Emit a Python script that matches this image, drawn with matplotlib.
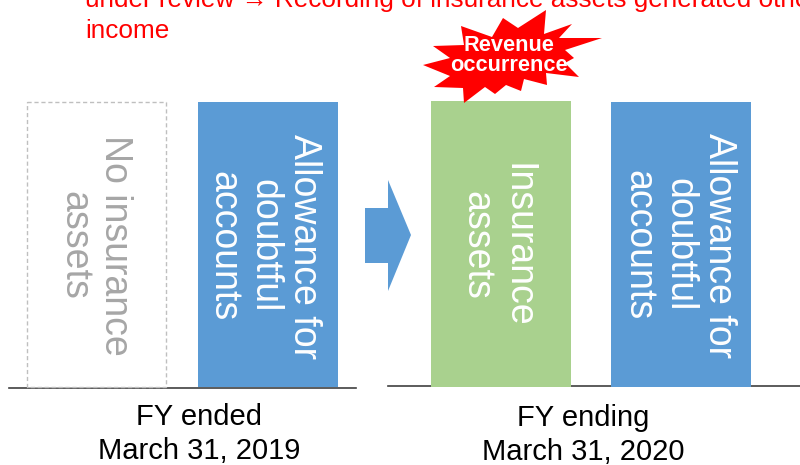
import matplotlib
matplotlib.use('Agg')
import matplotlib.pyplot as plt
from matplotlib.patches import Rectangle, Polygon

plt.rcParams['font.family'] = ['Liberation Sans', 'DejaVu Sans']

# bar labels and heights, left then right panel
labels_2019 = ['No insurance\nassets', 'Allowance for\ndoubtful\naccounts']
heights_2019 = [285, 285]
labels_2020 = ['Insurance\nassets', 'Allowance for\ndoubtful\naccounts']
heights_2020 = [286, 285]
period_2019 = 'FY ended\nMarch 31, 2019'
period_2020 = 'FY ending\nMarch 31, 2020'
headline = 'under review \u2192 Recording of insurance assets generated other\nincome'
burst_label = 'Revenue\noccurrence'

BLUE = '#5b9bd5'
GREEN = '#a9d18e'
GREY = '#a6a6a6'
BAR_FS = 27
BAR_LS = 1.16

fig = plt.figure(figsize=(8, 4.65), dpi=100)
ax = fig.add_axes([0, 0, 1, 1])
ax.set_xlim(0, 800)
ax.set_ylim(465, 0)
ax.axis('off')

base = 387

# baselines
ax.plot([9, 356], [base + 0.5, base + 0.5], color='#404040', lw=1.2, zorder=1)
ax.plot([388, 800], [base - 1, base - 1], color='#404040', lw=1.2, zorder=1)

# left panel
ax.add_patch(Rectangle((27, base - heights_2019[0]), 139, heights_2019[0], fc='white',
                       ec='#bfbfbf', lw=1, ls=(0, (3, 2)), zorder=2))
ax.text(95, 245, labels_2019[0], rotation=-90, color=GREY, fontsize=BAR_FS, ha='center',
        va='center', linespacing=BAR_LS, multialignment='center', zorder=3)
ax.add_patch(Rectangle((198, base - heights_2019[1]), 140, heights_2019[1], fc=BLUE, ec='none', zorder=2))
ax.text(264, 246, labels_2019[1], rotation=-90, color='white', fontsize=BAR_FS, ha='center',
        va='center', linespacing=BAR_LS, multialignment='center', zorder=3)

# right panel
ax.add_patch(Rectangle((431, base - heights_2020[0]), 140, heights_2020[0], fc=GREEN, ec='none', zorder=2))
ax.text(497, 245, labels_2020[0], rotation=-90, color='white', fontsize=BAR_FS, ha='center',
        va='center', linespacing=BAR_LS, multialignment='center', zorder=3)
ax.add_patch(Rectangle((611, base - heights_2020[1]), 140, heights_2020[1], fc=BLUE, ec='none', zorder=2))
ax.text(679, 245, labels_2020[1], rotation=-90, color='white', fontsize=BAR_FS, ha='center',
        va='center', linespacing=BAR_LS, multialignment='center', zorder=3)

# arrow between the panels
ax.add_patch(Polygon([(365, 208), (388, 208), (388, 180), (411, 235), (388, 291), (388, 263), (365, 263)],
                     closed=True, fc=BLUE, ec='none'))

# burst
star = [(546, 10), (544, 34), (572, 24), (559, 38), (602, 38), (565, 50), (574, 58), (565, 63),
        (579, 77), (546, 73), (547, 85), (524, 79), (521, 91), (506, 85), (495, 94), (485, 87),
        (464, 103), (463, 88), (434, 87), (450, 76), (423, 65), (450, 58), (433, 46), (464, 45),
        (461, 26), (492, 37), (503, 18), (518, 28)]
ax.add_patch(Polygon(star, closed=True, fc='#ff0000', ec='none', zorder=4))
ax.text(509, 55.5, burst_label, color='white', fontsize=15.7, fontweight='bold', ha='center',
        va='center', linespacing=0.95, zorder=5)

# captions
ax.text(199, 434, period_2019, color='black', fontsize=21, ha='center', va='center', linespacing=1.25)
ax.text(583, 435, period_2020, color='black', fontsize=21, ha='center', va='center', linespacing=1.25)

# clipped headline
ax.text(85, 42.5, headline, color='#ff0000', fontsize=18.8, ha='left', va='bottom', linespacing=1.35, clip_on=True)

fig.savefig('out.png', dpi=100)
